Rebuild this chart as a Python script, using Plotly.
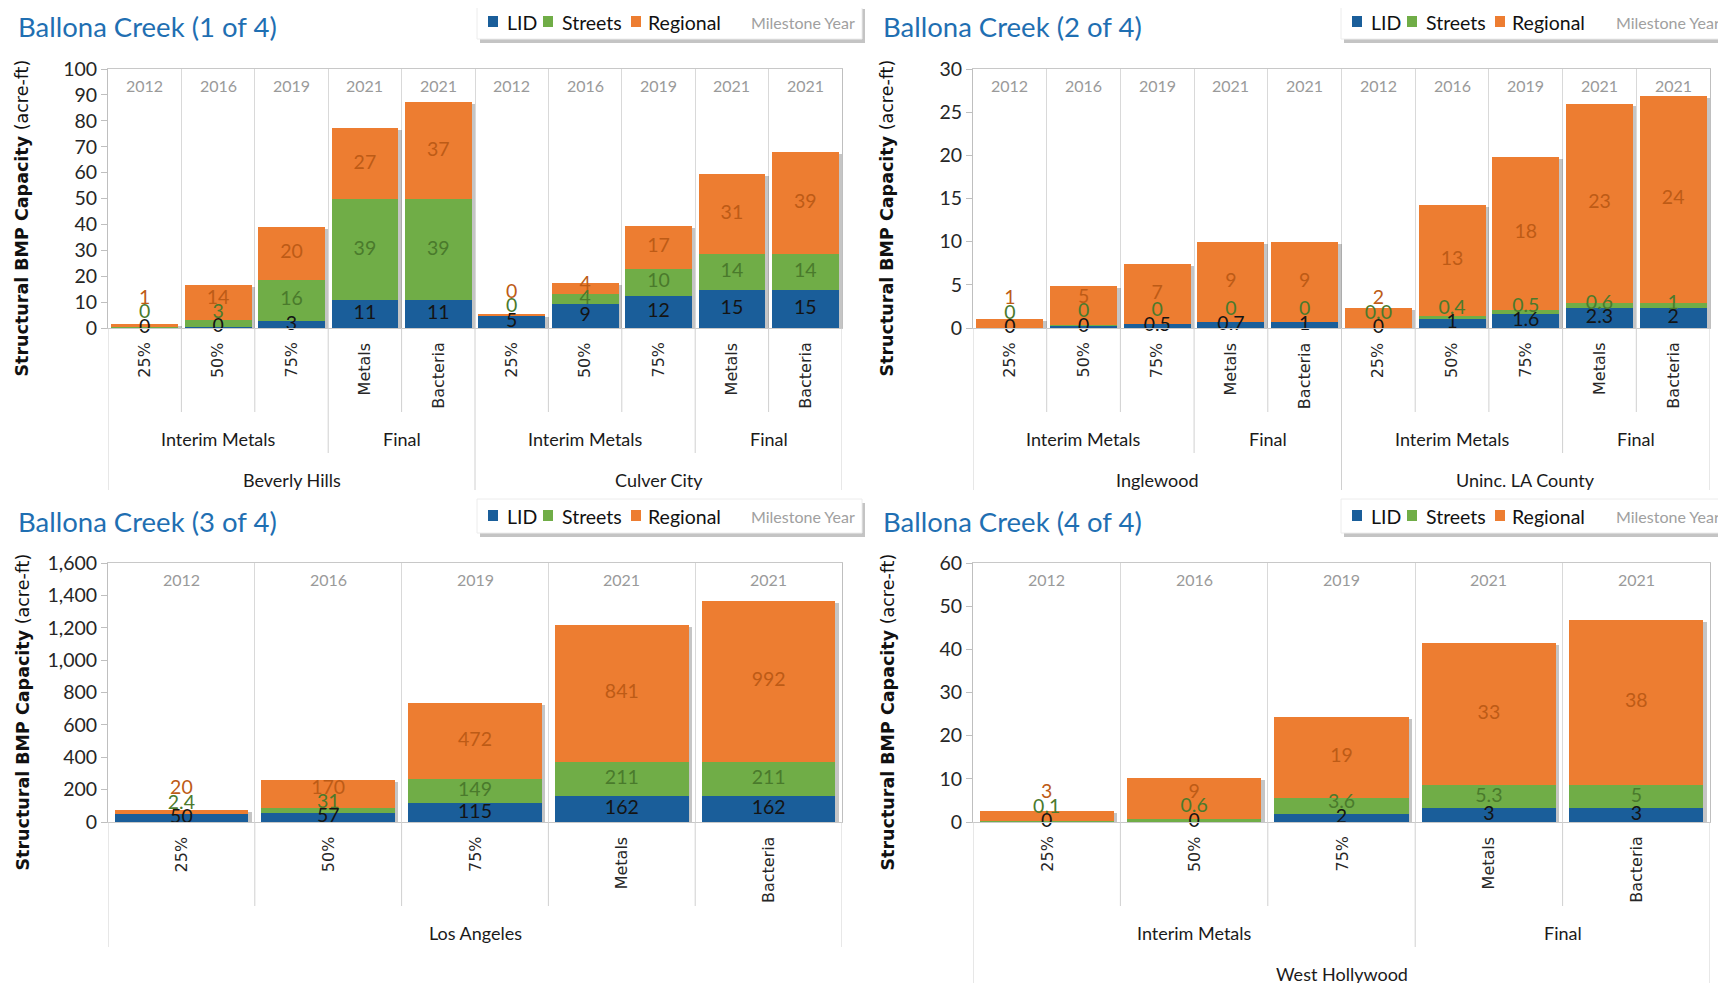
import plotly.graph_objects as go

W, H = 1726, 983
OFF = 8  # page body margin in the browser

# ---------------- data ----------------
CATEGORIES = ["25%", "50%", "75%", "Metals", "Bacteria"]
YEARS = ["2012", "2016", "2019", "2021", "2021"]
GROUPS = ["Interim Metals", "Final"]
GROUP_SIZES = [3, 2]
SERIES = ["LID", "Streets", "Regional"]

# Panel 1: Beverly Hills, Culver City
p1_title = "Ballona Creek (1 of 4)"
p1_cities = ["Beverly Hills", "Culver City"]
p1_lid = [0.2, 0.4, 2.6, 10.7, 10.7, 4.8, 9.1, 12.3, 14.7, 14.7]
p1_streets = [0.3, 2.6, 16.0, 39.0, 39.0, 0.1, 4.1, 10.5, 14.0, 14.0]
p1_regional = [1.2, 13.7, 20.4, 27.4, 37.4, 0.2, 4.3, 16.6, 30.9, 39.2]
p1_lid_lbl = ["0", "0", "3", "11", "11", "5", "9", "12", "15", "15"]
p1_streets_lbl = ["0", "3", "16", "39", "39", "0", "4", "10", "14", "14"]
p1_regional_lbl = ["1", "14", "20", "27", "37", "0", "4", "17", "31", "39"]

# Panel 2: Inglewood, Uninc. LA County
p2_title = "Ballona Creek (2 of 4)"
p2_cities = ["Inglewood", "Uninc. LA County"]
p2_lid = [0.02, 0.3, 0.5, 0.73, 0.73, 0.02, 1.08, 1.62, 2.28, 2.28]
p2_streets = [0.02, 0.02, 0.02, 0.02, 0.02, 0.03, 0.35, 0.5, 0.6, 0.6]
p2_regional = [1.0, 4.5, 6.9, 9.2, 9.2, 2.25, 12.8, 17.7, 23.1, 24.0]
p2_lid_lbl = ["0", "0", "0.5", "0.7", "1", "0", "1", "1.6", "2.3", "2"]
p2_streets_lbl = ["0", "0", "0", "0", "0", "0.0", "0.4", "0.5", "0.6", "1"]
p2_regional_lbl = ["1", "5", "7", "9", "9", "2", "13", "18", "23", "24"]

# Panel 3: Los Angeles
p3_title = "Ballona Creek (3 of 4)"
p3_cities = ["Los Angeles"]
p3_lid = [50, 57, 115, 162, 162]
p3_streets = [2.4, 31, 149, 211, 211]
p3_regional = [20, 170, 472, 841, 992]
p3_lid_lbl = ["50", "57", "115", "162", "162"]
p3_streets_lbl = ["2.4", "31", "149", "211", "211"]
p3_regional_lbl = ["20", "170", "472", "841", "992"]

# Panel 4: West Hollywood
p4_title = "Ballona Creek (4 of 4)"
p4_cities = ["West Hollywood"]
p4_lid = [0.02, 0.1, 1.93, 3.17, 3.17]
p4_streets = [0.1, 0.6, 3.6, 5.3, 5.3]
p4_regional = [2.5, 9.4, 18.8, 33.1, 38.4]
p4_lid_lbl = ["0", "0", "2", "3", "3"]
p4_streets_lbl = ["0.1", "0.6", "3.6", "5.3", "5"]
p4_regional_lbl = ["3", "9", "19", "33", "38"]

# ---------------- styles ----------------
BAR_COLORS = ["#1a5e9a", "#70ad47", "#ed7d31"]
LABEL_COLORS = ["#141414", "#4a7a2c", "#bd5b16"]
TITLE_COLOR = "#1f6fb2"
NUM_FONT = "Lato"
CAT_FONT = "DejaVu Sans"
BAR_W = 0.91
SEP_COLOR = "#d0d0d0"

panels = [
    dict(title=p1_title, cities=p1_cities, vals=[p1_lid, p1_streets, p1_regional],
         lbls=[p1_lid_lbl, p1_streets_lbl, p1_regional_lbl], ymax=100, dtick=10,
         groups=True, box=(108, 842, 69, 328)),
    dict(title=p2_title, cities=p2_cities, vals=[p2_lid, p2_streets, p2_regional],
         lbls=[p2_lid_lbl, p2_streets_lbl, p2_regional_lbl], ymax=30, dtick=5,
         groups=True, box=(973, 1710, 69, 328)),
    dict(title=p3_title, cities=p3_cities, vals=[p3_lid, p3_streets, p3_regional],
         lbls=[p3_lid_lbl, p3_streets_lbl, p3_regional_lbl], ymax=1600, dtick=200,
         groups=False, box=(108, 842, 563, 822)),
    dict(title=p4_title, cities=p4_cities, vals=[p4_lid, p4_streets, p4_regional],
         lbls=[p4_lid_lbl, p4_streets_lbl, p4_regional_lbl], ymax=60, dtick=10,
         groups=True, box=(973, 1710, 563, 822)),
]


def PX(px):
    return (px - OFF) / W


def PY(py):
    return 1 - (py - OFF) / H


fig = go.Figure()
shapes = []
annotations = []
layout_axes = {}

for i, p in enumerate(panels, start=1):
    suf = "" if i == 1 else str(i)
    xa, ya = "x" + suf, "y" + suf
    L, R, T, B = p["box"]
    ncity = len(p["cities"])
    ncat = len(CATEGORIES) * ncity
    xs = list(range(ncat))
    cat_px = (R - L) / ncat
    unit_per_px = p["ymax"] / (B - T)
    vals = p["vals"]
    totals = [sum(v[k] for v in vals) for k in xs]

    # bar shadow
    fig.add_trace(go.Bar(
        x=xs, y=[max(t - 2 * unit_per_px, 0) for t in totals], base=0,
        width=BAR_W, offset=-BAR_W / 2 + 3.5 / cat_px,
        marker=dict(color="rgba(90,90,90,0.35)", line_width=0),
        xaxis=xa, yaxis=ya, hoverinfo="skip", showlegend=False))

    cum = [0.0] * ncat
    for s in range(3):
        fig.add_trace(go.Bar(
            x=xs, y=vals[s], base=cum[:], width=BAR_W, name=SERIES[s],
            marker=dict(color=BAR_COLORS[s], line_width=0),
            xaxis=xa, yaxis=ya, showlegend=False))
        cum = [c + v for c, v in zip(cum, vals[s])]

    # data labels (centered, nudged up when crowded)
    gap = 0.055 * p["ymax"]
    prev = [-1e9] * ncat
    cum = [0.0] * ncat
    for s in range(3):
        centers = [c + v / 2 for c, v in zip(cum, vals[s])]
        ly = [max(c, pv + gap) for c, pv in zip(centers, prev)]
        fig.add_trace(go.Scatter(
            x=xs, y=ly, mode="text", text=p["lbls"][s],
            textfont=dict(family=NUM_FONT, size=19.5, color=LABEL_COLORS[s]),
            xaxis=xa, yaxis=ya, cliponaxis=False, hoverinfo="skip", showlegend=False))
        prev = ly
        cum = [c + v for c, v in zip(cum, vals[s])]

    layout_axes["xaxis" + suf] = dict(
        domain=[PX(L), PX(R)], range=[-0.5, ncat - 0.5], anchor=ya, automargin=False,
        tickvals=[k + 0.5 for k in range(ncat - 1)], showticklabels=False, ticks="",
        showgrid=True, gridcolor="#d9d9d9", gridwidth=1,
        showline=True, linecolor="#c8c8c8", linewidth=1, mirror=True,
        zeroline=False, fixedrange=True)
    layout_axes["yaxis" + suf] = dict(
        domain=[PY(B), PY(T)], range=[0, p["ymax"]], dtick=p["dtick"], tickformat=",",
        anchor=xa, automargin=False, ticks="outside", ticklen=6, tickcolor="#bfbfbf",
        showgrid=False, showline=True, linecolor="#bfbfbf", linewidth=1, mirror=True,
        zeroline=False, fixedrange=True,
        tickfont=dict(family=NUM_FONT, size=19.5, color="#262626"))

    # year labels and category labels
    for k in xs:
        annotations.append(dict(
            x=k, y=PY(T + 16), xref=xa, yref="paper", text=YEARS[k % len(YEARS)],
            showarrow=False, xanchor="center", yanchor="middle",
            font=dict(family=NUM_FONT, size=16, color="#9a9a9a")))
        annotations.append(dict(
            x=k, y=PY(B + 12), xref=xa, yref="paper", text=CATEGORIES[k % len(CATEGORIES)],
            showarrow=False, textangle=-90, xanchor="center", yanchor="top",
            font=dict(family=CAT_FONT, size=16, color="#262626")))

    # separators below the axis
    per_city = len(CATEGORIES)
    group_edges = []
    acc = 0
    for gs in GROUP_SIZES[:-1]:
        acc += gs
        group_edges.append(acc - 0.5)
    for b in range(-1, ncat):
        xb = b + 0.5
        if b == -1 or (b + 1) % per_city == 0:
            end = B + (162 if p["groups"] else 125)
        elif p["groups"] and ((b + 1) % per_city) - 0.5 in group_edges:
            end = B + 125
        else:
            end = B + 84
        shapes.append(dict(type="line", xref=xa, yref="paper", x0=xb, x1=xb,
                           y0=PY(B), y1=PY(end), line=dict(color=SEP_COLOR, width=1)))

    # group and city labels
    for c, city in enumerate(p["cities"]):
        start = c * per_city
        if p["groups"]:
            g0 = start
            for g, gs in zip(GROUPS, GROUP_SIZES):
                annotations.append(dict(
                    x=g0 + (gs - 1) / 2, y=PY(B + 111), xref=xa, yref="paper", text=g,
                    showarrow=False, xanchor="center", yanchor="middle",
                    font=dict(family=NUM_FONT, size=18, color="#1a1a1a")))
                g0 += gs
            cy = B + 152
        else:
            cy = B + 111
        annotations.append(dict(
            x=start + (per_city - 1) / 2, y=PY(cy), xref=xa, yref="paper", text=city,
            showarrow=False, xanchor="center", yanchor="middle",
            font=dict(family=NUM_FONT, size=18, color="#1a1a1a")))

    # y-axis title
    annotations.append(dict(
        x=PX(L - 86), y=PY((T + B) / 2 + 20), xref="paper", yref="paper",
        text="<b>Structural BMP Capacity</b> (acre-ft)", textangle=-90,
        showarrow=False, xanchor="center", yanchor="middle",
        font=dict(family=CAT_FONT, size=17.5, color="#111111")))

    # panel title
    annotations.append(dict(
        x=PX(L - 92), y=PY(T - 42), xref="paper", yref="paper", text=p["title"],
        showarrow=False, xanchor="left", yanchor="middle",
        font=dict(family=NUM_FONT, size=27.5, color=TITLE_COLOR)))

    # legend box
    at_edge = R + 20 >= W
    bl = R - (369 if at_edge else 365)
    br = W if at_edge else R + 20
    bt, bb = T - 64, T - 30
    shapes.append(dict(type="rect", xref="paper", yref="paper",
                       x0=PX(bl + 3), x1=PX(br + 3), y0=PY(bb + 4), y1=PY(bt + 4),
                       fillcolor="#c4c4c4", line=dict(width=0)))
    shapes.append(dict(type="rect", xref="paper", yref="paper",
                       x0=PX(bl), x1=PX(br), y0=PY(bb), y1=PY(bt),
                       fillcolor="white", line=dict(color="#ececec", width=1)))
    ymid = (bt + bb) / 2
    for s, (sq, tx) in enumerate([(11, 28), (66, 83), (154, 169)]):
        shapes.append(dict(type="rect", xref="paper", yref="paper",
                           x0=PX(bl + sq), x1=PX(bl + sq + 10), y0=PY(ymid + 5), y1=PY(ymid - 6),
                           fillcolor=BAR_COLORS[s], line=dict(width=0)))
        annotations.append(dict(
            x=PX(bl + tx), y=PY(ymid), xref="paper", yref="paper", text=SERIES[s],
            showarrow=False, xanchor="left", yanchor="middle",
            font=dict(family=NUM_FONT, size=19.5, color="#111111")))
    if at_edge:
        annotations.append(dict(
            x=PX(W - 4), y=PY(ymid), xref="paper", yref="paper", text="Milestone Year",
            showarrow=False, xanchor="right", yanchor="middle",
            font=dict(family=NUM_FONT, size=16, color="#a0a0a0")))
    else:
        annotations.append(dict(
            x=PX(bl + 272), y=PY(ymid), xref="paper", yref="paper", text="Milestone Year",
            showarrow=False, xanchor="left", yanchor="middle",
            font=dict(family=NUM_FONT, size=16, color="#a0a0a0")))

fig.update_layout(
    width=W, height=H, autosize=False, margin=dict(l=0, r=0, t=0, b=0, pad=0),
    paper_bgcolor="white", plot_bgcolor="white",
    barmode="overlay", bargap=0, showlegend=False,
    shapes=shapes, annotations=annotations,
    **layout_axes)

fig.write_html("out.html")
